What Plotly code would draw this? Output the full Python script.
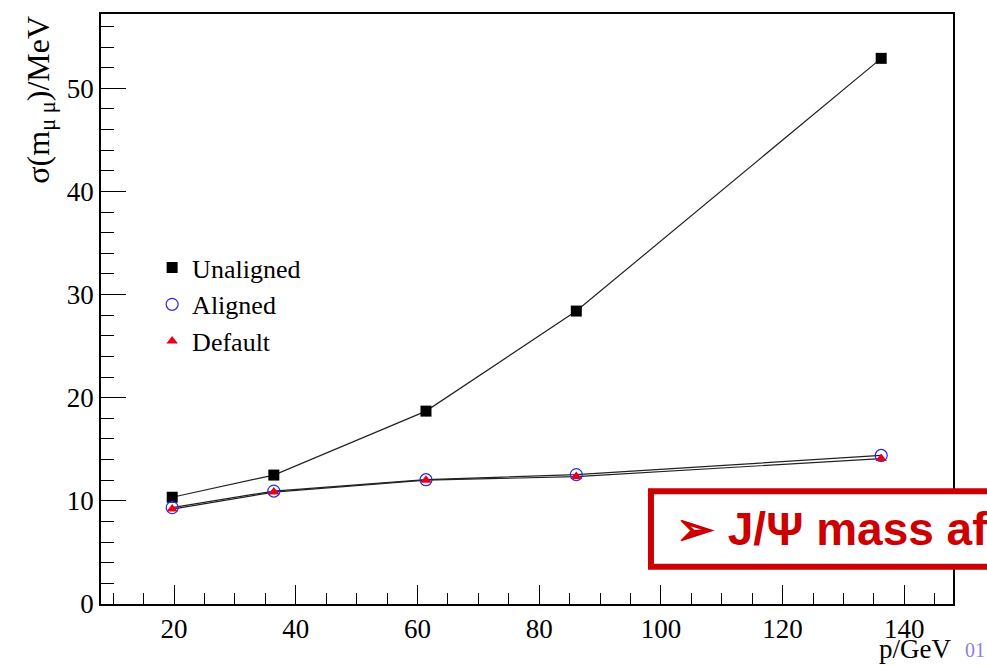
import plotly.graph_objects as go

p_gev = [19.7, 36.4, 61.4, 86.1, 136.2]
unaligned = [10.35, 12.5, 18.7, 28.4, 52.9]
aligned = [9.35, 10.95, 12.05, 12.55, 14.4]
default = [9.2, 10.85, 12.0, 12.35, 14.1]

serif = "Liberation Serif, Times New Roman, serif"

series = [
    ("Unaligned", unaligned, dict(symbol="square", size=11, color="black")),
    ("Aligned", aligned, dict(symbol="circle-open", size=12, color="#2a2ae8", line=dict(width=1.2))),
    ("Default", default, dict(symbol="triangle-up", size=10, color="#e8001c")),
]

fig = go.Figure()
for name, vals, _ in series:
    fig.add_trace(go.Scatter(
        x=p_gev, y=vals, mode="lines", showlegend=False, hoverinfo="skip",
        line=dict(color="#222222", width=1.2),
    ))
for name, vals, mk in series:
    fig.add_trace(go.Scatter(
        x=p_gev, y=vals, name=name, mode="markers", marker=mk,
    ))

fig.update_layout(
    width=987, height=666,
    margin=dict(l=101, r=34, t=12, b=62),
    paper_bgcolor="white", plot_bgcolor="white",
    font=dict(family=serif, size=26, color="black"),
    showlegend=True,
    legend=dict(
        x=0.06, y=0.61, xanchor="left", yanchor="top",
        bgcolor="rgba(0,0,0,0)", borderwidth=0,
        font=dict(family=serif, size=26, color="black"),
        tracegroupgap=0, itemwidth=30,
    ),
    xaxis=dict(
        range=[8, 148], showgrid=False, zeroline=False,
        showline=True, linecolor="black", linewidth=1.5, mirror=True,
        tickmode="linear", tick0=0, dtick=20,
        ticks="inside", ticklen=19, tickwidth=1.2, tickcolor="black",
        minor=dict(dtick=5, tick0=0, ticks="inside", ticklen=11, tickwidth=1.2, tickcolor="black", showgrid=False),
        tickfont=dict(family=serif, size=27, color="black"),
    ),
    yaxis=dict(
        range=[0, 57.2], showgrid=False, zeroline=False,
        showline=True, linecolor="black", linewidth=1.5, mirror=True,
        tickmode="linear", tick0=0, dtick=10,
        ticks="inside", ticklen=25, tickwidth=1.2, tickcolor="black",
        minor=dict(dtick=2, tick0=0, ticks="inside", ticklen=13, tickwidth=1.2, tickcolor="black", showgrid=False),
        tickfont=dict(family=serif, size=27, color="black"),
    ),
)

# axis titles (ROOT style: placed at the axis ends)
fig.add_annotation(
    text="σ(m<sub>μ μ</sub>)/MeV", xref="paper", yref="paper",
    x=-0.072, y=1.0, xanchor="center", yanchor="top", textangle=-90,
    showarrow=False, font=dict(family=serif, size=32, color="black"),
)
fig.add_annotation(
    text="p/GeV", xref="paper", yref="paper",
    x=1.0, y=-0.1045, xanchor="right", yanchor="bottom",
    showarrow=False, font=dict(family=serif, size=27, color="black"),
)
fig.add_annotation(
    text="01", xref="paper", yref="paper",
    x=1.012, y=-0.1, xanchor="left", yanchor="bottom",
    showarrow=False, font=dict(family=serif, size=20, color="#8c80ea"),
)

# red slide box (cut off at the right edge)
fig.add_shape(
    type="rect", xref="paper", yref="paper",
    x0=0.6455, x1=1.2, y0=0.063, y1=0.191,
    line=dict(color="#cc0000", width=6), fillcolor="white", layer="above",
)
fig.add_annotation(
    text="<b>➢ J/Ψ mass after alignment</b>", xref="paper", yref="paper",
    x=0.672, y=0.127, xanchor="left", yanchor="middle",
    showarrow=False, font=dict(family="Liberation Sans, Arial, sans-serif", size=46, color="#cc0000"),
)

fig.write_html("out.html")
